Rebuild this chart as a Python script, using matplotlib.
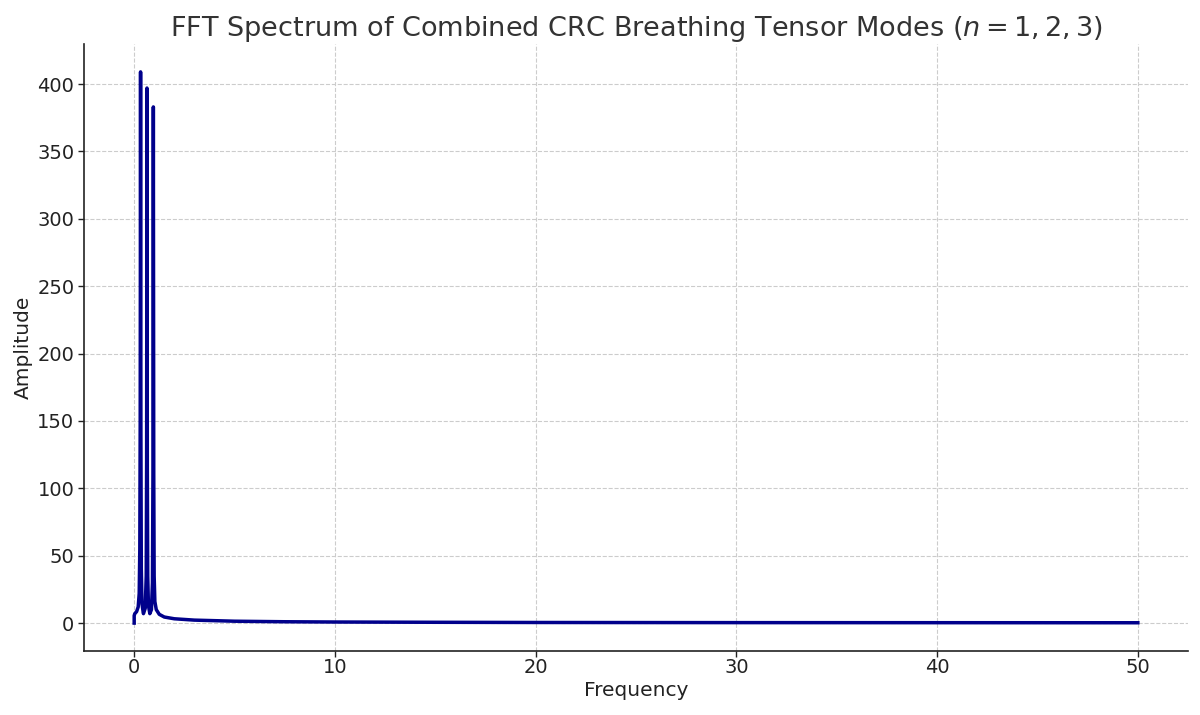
import matplotlib
matplotlib.use("Agg")
import matplotlib.pyplot as plt

# values
freq = [0.0, 0.0, 0.03, 0.12, 0.2, 0.25, 0.28, 0.30, 0.318, 0.335, 0.355, 0.39,
        0.46, 0.55, 0.6, 0.62, 0.637, 0.655, 0.675, 0.71, 0.78, 0.86, 0.91,
        0.935, 0.955, 0.975, 0.995, 1.03, 1.1, 1.25, 1.5, 2.0, 3.0, 5.0, 7.5,
        10.0, 15.0, 20.0, 30.0, 40.0, 50.0]
amp = [0.0, 5.5, 7.0, 8.5, 12.0, 22.0, 55.0, 150.0, 409.0, 140.0, 40.0, 14.0,
       7.0, 11.0, 35.0, 120.0, 397.0, 115.0, 35.0, 13.0, 7.0, 10.0, 30.0,
       110.0, 383.0, 110.0, 35.0, 16.0, 10.0, 6.5, 4.5, 3.2, 2.2, 1.4, 1.0,
       0.8, 0.6, 0.45, 0.35, 0.3, 0.25]

plt.rcParams['font.family'] = ['DejaVu Sans']

fig, ax = plt.subplots(figsize=(12, 7.15), dpi=100)
fig.subplots_adjust(left=0.07, right=0.99, top=0.938, bottom=0.09)

ax.plot(freq, amp, color='#00008B', linewidth=2.5)

ax.set_title(r"FFT Spectrum of Combined CRC Breathing Tensor Modes ($n = 1, 2, 3$)",
             fontsize=19.5, color='#333333', pad=5)
ax.set_xlabel("Frequency", fontsize=14.5, color='#222222', labelpad=3)
ax.set_ylabel("Amplitude", fontsize=14.5, color='#222222', labelpad=3)
ax.tick_params(labelsize=14, colors='#222222', length=4, width=1, pad=3)
ax.tick_params(axis='x', pad=1)
ax.grid(True, linestyle='--', color='#cccccc', linewidth=0.8)
ax.spines['top'].set_visible(False)
ax.spines['right'].set_visible(False)
for s in ['left', 'bottom']:
    ax.spines[s].set_color('#222222')
    ax.spines[s].set_linewidth(1.2)
ax.set_yticks(range(0, 401, 50))

plt.savefig('out.png')
